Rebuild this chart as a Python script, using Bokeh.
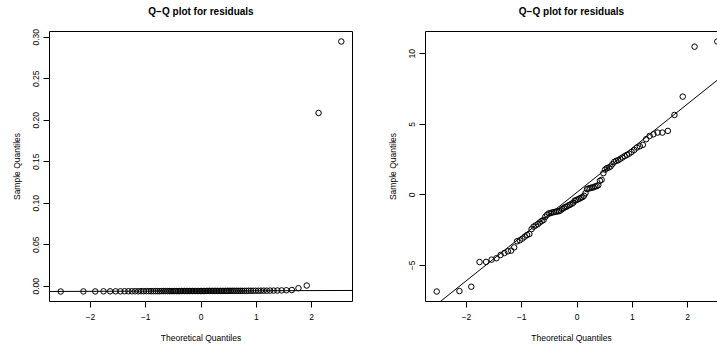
from bokeh.plotting import figure
from bokeh.models import Range1d, FixedTicker, Slope, LinearAxis, PrintfTickFormatter
from bokeh.layouts import row
from bokeh.embed import file_html
from bokeh.resources import INLINE
import numpy as np

# ---------------- data ----------------
theoretical_q = [
    -2.539, -2.128, -1.914, -1.764, -1.645, -1.545, -1.459, -1.383, -1.314, -1.251,
    -1.192, -1.137, -1.085, -1.036, -0.989, -0.945, -0.903, -0.862, -0.822, -0.784,
    -0.746, -0.710, -0.674, -0.640, -0.606, -0.573, -0.541, -0.509, -0.477, -0.446,
    -0.415, -0.385, -0.355, -0.326, -0.297, -0.268, -0.240, -0.210, -0.182, -0.154,
    -0.126, -0.098, -0.070, -0.042, -0.014, 0.014, 0.042, 0.070, 0.098, 0.126,
    0.154, 0.182, 0.210, 0.240, 0.268, 0.297, 0.326, 0.355, 0.385, 0.415,
    0.446, 0.477, 0.509, 0.541, 0.573, 0.606, 0.640, 0.674, 0.710, 0.746,
    0.784, 0.822, 0.862, 0.903, 0.945, 0.989, 1.036, 1.085, 1.137, 1.192,
    1.251, 1.314, 1.383, 1.459, 1.545, 1.645, 1.764, 1.914, 2.128, 2.539,
]

resid_a = [
    -0.0064, -0.0063, -0.0063, -0.0062, -0.0062, -0.0062, -0.0062, -0.0061, -0.0061, -0.0061,
    -0.0061, -0.0061, -0.0060, -0.0060, -0.0060, -0.0060, -0.0060, -0.0060, -0.0060, -0.0060,
    -0.0060, -0.0059, -0.0059, -0.0059, -0.0059, -0.0059, -0.0059, -0.0059, -0.0059, -0.0059,
    -0.0059, -0.0059, -0.0058, -0.0058, -0.0058, -0.0058, -0.0058, -0.0058, -0.0058, -0.0058,
    -0.0058, -0.0058, -0.0058, -0.0058, -0.0058, -0.0058, -0.0058, -0.0058, -0.0057, -0.0057,
    -0.0057, -0.0057, -0.0057, -0.0057, -0.0057, -0.0057, -0.0057, -0.0057, -0.0057, -0.0057,
    -0.0057, -0.0056, -0.0056, -0.0056, -0.0056, -0.0056, -0.0056, -0.0056, -0.0056, -0.0056,
    -0.0056, -0.0056, -0.0055, -0.0055, -0.0055, -0.0055, -0.0055, -0.0054, -0.0054, -0.0054,
    -0.0053, -0.0053, -0.0052, -0.0051, -0.0049, -0.0046, -0.0024, 0.0008, 0.2087, 0.2948,
]

resid_b = [
    -6.86, -6.83, -6.52, -4.77, -4.76, -4.60, -4.50, -4.27, -4.13, -4.01,
    -3.96, -3.73, -3.30, -3.23, -3.11, -2.97, -2.85, -2.78, -2.43, -2.26,
    -2.17, -2.08, -1.96, -1.86, -1.79, -1.56, -1.42, -1.32, -1.30, -1.25,
    -1.23, -1.20, -1.18, -1.16, -1.11, -1.01, -0.94, -0.87, -0.83, -0.75,
    -0.71, -0.64, -0.57, -0.42, -0.38, -0.33, -0.28, -0.21, -0.17, -0.07,
    0.12, 0.40, 0.45, 0.47, 0.52, 0.52, 0.59, 0.61, 0.68, 0.99,
    1.06, 1.53, 1.79, 1.89, 1.93, 2.00, 2.17, 2.33, 2.41, 2.45,
    2.55, 2.64, 2.74, 2.83, 2.92, 3.04, 3.18, 3.35, 3.44, 3.54,
    3.94, 4.17, 4.29, 4.41, 4.41, 4.53, 5.66, 6.96, 10.50, 10.87,
]

title_text = "Q\u2212Q plot for residuals"
x_label = "Theoretical Quantiles"
y_label = "Sample Quantiles"
x_ticks = [-2, -1, 0, 1, 2]
x_tick_labels = ["\u22122", "\u22121", "0", "1", "2"]
ya_ticks = [0.0, 0.05, 0.10, 0.15, 0.20, 0.25, 0.30]
yb_ticks = [-5, 0, 5, 10]
yb_tick_labels = ["\u22125", "0", "5", "10"]

FONT = "Liberation Sans"
FS = "8.5px"

W1, W2, H = 358, 359, 345
BL1, BR1, BL2, BR2 = 49, 6, 67, 0
BT, BB = 31, 44


def padded(vals):
    lo, hi = min(vals), max(vals)
    d = 0.04 * (hi - lo)
    return lo - d, hi + d


def qqline(y):
    q1, q3 = np.quantile(y, [0.25, 0.75])
    z1, z3 = -0.6745, 0.6745
    slope = (q3 - q1) / (z3 - z1)
    return slope, q1 - slope * z1


def style(p, yfmt=None, yticks=None, ylabels=None, top_line=None):
    p.grid.visible = False
    p.background_fill_color = "white"
    p.border_fill_color = "white"
    p.xaxis.ticker = FixedTicker(ticks=x_ticks)
    p.xaxis.major_label_overrides = dict(zip(x_ticks, x_tick_labels))
    p.yaxis.ticker = FixedTicker(ticks=yticks)
    if yfmt is not None:
        p.yaxis.formatter = yfmt
    if ylabels is not None:
        p.yaxis.major_label_overrides = dict(zip(yticks, ylabels))
    p.yaxis.major_label_orientation = "vertical"
    p.yaxis.axis_label = y_label
    p.xaxis.axis_label = x_label
    for ax in (p.xaxis[0], p.yaxis[0]):
        ax.major_tick_out = 6
        ax.major_tick_in = 0
        ax.minor_tick_line_color = None
        ax.major_tick_line_color = "black"
        ax.major_label_text_font = FONT
        ax.major_label_text_font_size = FS
        ax.major_label_text_color = "black"
        ax.axis_label_text_font = FONT
        ax.axis_label_text_font_size = FS
        ax.axis_label_text_font_style = "normal"
        ax.axis_label_text_color = "black"
    p.xaxis.major_label_standoff = 6
    p.xaxis.axis_label_standoff = 10
    p.yaxis.major_label_standoff = 4
    p.yaxis.axis_label_standoff = 9
    # tick-less top axis: carries the main title (and the top border line)
    top = LinearAxis(ticker=FixedTicker(ticks=[]), major_tick_out=0, major_tick_in=0,
                     minor_tick_out=0, minor_tick_in=0, major_label_standoff=0,
                     major_tick_line_color=None, minor_tick_line_color=None,
                     axis_line_color=top_line, axis_label=title_text,
                     axis_label_standoff=15, axis_label_text_font=FONT,
                     axis_label_text_font_size="10px", axis_label_text_font_style="bold",
                     axis_label_text_color="black")
    p.add_layout(top, "above")


# ---------------- left panel ----------------
xlo, xhi = padded(theoretical_q)
p1 = figure(width=W1, height=H, output_backend="svg", toolbar_location=None,
            x_range=Range1d(xlo, xhi), y_range=Range1d(*padded(resid_a)),
            min_border_left=BL1, min_border_right=BR1, min_border_top=BT, min_border_bottom=BB)
style(p1, yfmt=PrintfTickFormatter(format="%.2f"), yticks=ya_ticks)
p1.xaxis.axis_line_color = None
p1.yaxis.axis_line_color = None
p1.outline_line_color = "black"
p1.outline_line_alpha = 1.0
p1.outline_line_width = 1
s1, i1 = qqline(resid_a)
p1.scatter(theoretical_q, resid_a, marker="circle", size=5.5, fill_color=None,
           line_color="black", line_width=1)
p1.add_layout(Slope(gradient=s1, y_intercept=i1, line_color="black", line_width=1))

# ---------------- right panel (cut at the window edge) ----------------
frame1 = W1 - BL1 - BR1
frame2 = W2 - BL2 - BR2
x2_end = xlo + (xhi - xlo) * frame2 / frame1
y2lo, y2hi = padded(resid_b)
p2 = figure(width=W2, height=H, output_backend="svg", toolbar_location=None,
            x_range=Range1d(xlo, x2_end), y_range=Range1d(y2lo, y2hi),
            min_border_left=BL2, min_border_right=BR2, min_border_top=BT, min_border_bottom=BB)
style(p2, yticks=yb_ticks, ylabels=yb_tick_labels, top_line="black")
p2.outline_line_color = None
p2.xaxis.axis_line_color = "black"
p2.yaxis.axis_line_color = "black"
s2, i2 = qqline(resid_b)
p2.scatter(theoretical_q, resid_b, marker="circle", size=5.5, fill_color=None,
           line_color="black", line_width=1)
p2.add_layout(Slope(gradient=s2, y_intercept=i2, line_color="black", line_width=1))

layout = row(p1, p2)

open("out.html", "w").write(file_html(layout, INLINE))
